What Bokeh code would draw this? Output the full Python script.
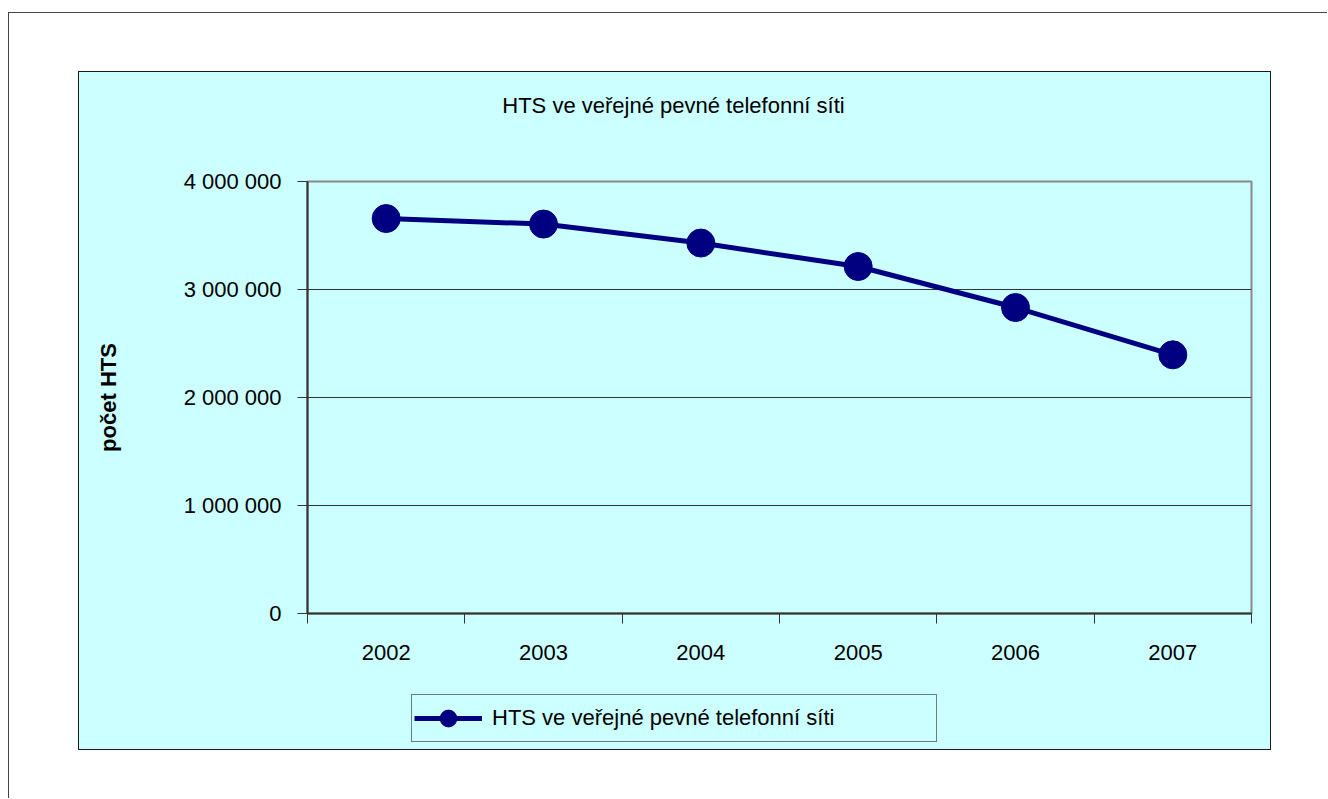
from bokeh.plotting import figure
from bokeh.layouts import column
from bokeh.models import Range1d, FixedTicker, Legend, LegendItem, Label
from bokeh.embed import file_html
from bokeh.resources import INLINE

# ---- data ----
years = ["2002", "2003", "2004", "2005", "2006", "2007"]
hts = [3657000, 3606000, 3430000, 3213000, 2833000, 2395000]
y_ticks = [0, 1000000, 2000000, 3000000, 4000000]
y_tick_labels = ["0", "1 000 000", "2 000 000", "3 000 000", "4 000 000"]
title_text = "HTS ve veřejné pevné telefonní síti"
series_name = "HTS ve veřejné pevné telefonní síti"
y_label = "počet HTS"

FONT = "Liberation Sans"
FS = "22px"
CYAN = "#CCFFFF"
NAVY = "#000080"
DARK = "#333333"
W = 1191
FRAME_W = 944   # the column aligns all frames to the main plot's frame

xs = [i + 0.5 for i in range(len(years))]
bounds = list(range(len(years) + 1))


def strip(h, xr, yr):
    f = figure(width=W, height=h, output_backend="svg", toolbar_location=None, tools="",
               x_range=xr, y_range=yr, x_axis_location=None, y_axis_location=None,
               min_border=0, min_border_left=0, min_border_right=0,
               min_border_top=0, min_border_bottom=0,
               background_fill_color=CYAN, border_fill_color=CYAN)
    f.outline_line_color = None
    f.grid.visible = False
    return f


# ---- title strip ----
t = strip(90, Range1d(0, FRAME_W), Range1d(0, 90))
t.add_layout(Label(x=366, y=57, text=title_text, text_align="center",
                   text_baseline="alphabetic", text_font=FONT, text_font_size=FS,
                   text_color="black"))

# ---- main plot ----
p = figure(width=W, height=528, output_backend="svg", toolbar_location=None, tools="",
           x_range=Range1d(0, len(years)), y_range=Range1d(y_ticks[0], y_ticks[-1]),
           min_border_left=228, min_border_right=19, min_border_top=19, min_border_bottom=77,
           background_fill_color=CYAN, border_fill_color=CYAN)
p.outline_line_color = "#888888"
p.outline_line_width = 2

xa = p.xaxis[0]
xa.ticker = FixedTicker(ticks=xs, minor_ticks=bounds)
xa.major_label_overrides = {x: y for x, y in zip(xs, years)}
xa.major_tick_out = 0
xa.major_tick_in = 0
xa.minor_tick_out = 10
xa.minor_tick_in = 0
xa.minor_tick_line_color = DARK
xa.minor_tick_line_width = 1
xa.axis_line_color = DARK
xa.axis_line_width = 2
xa.major_label_standoff = 21
xa.major_label_text_font = FONT
xa.major_label_text_font_size = FS
xa.major_label_text_color = "black"

ya = p.yaxis[0]
ya.ticker = FixedTicker(ticks=y_ticks)
ya.major_label_overrides = {v: s for v, s in zip(y_ticks, y_tick_labels)}
ya.major_tick_out = 10
ya.major_tick_in = 0
ya.minor_tick_out = 0
ya.minor_tick_in = 0
ya.major_tick_line_color = DARK
ya.axis_line_color = DARK
ya.axis_line_width = 2
ya.major_label_standoff = 16
ya.major_label_text_font = FONT
ya.major_label_text_font_size = FS
ya.major_label_text_color = "black"
ya.axis_label = y_label
ya.axis_label_text_font = FONT
ya.axis_label_text_font_size = FS
ya.axis_label_text_font_style = "bold"
ya.axis_label_text_color = "black"
ya.axis_label_standoff = 60

p.xgrid.visible = False
p.ygrid.ticker = FixedTicker(ticks=y_ticks[1:-1])
p.ygrid.grid_line_color = DARK
p.ygrid.grid_line_width = 1

p.line(xs, hts, line_color=NAVY, line_width=5)
p.scatter(xs, hts, size=28, fill_color=NAVY, line_color=NAVY)

# ---- legend strip ----
lg = strip(59, Range1d(-20, -10), Range1d(0, 1))
lr = lg.line(xs, hts, line_color=NAVY, line_width=5)
sr = lg.scatter(xs, hts, size=28, fill_color=NAVY, line_color=NAVY)
legend = Legend(items=[LegendItem(label=series_name, renderers=[lr, sr])],
                location=(104, 7), orientation="vertical",
                padding=2, margin=0, spacing=0,
                glyph_width=68, glyph_height=42, label_standoff=10, label_width=442,
                label_text_font=FONT, label_text_font_size=FS, label_text_color="black",
                border_line_color="black", border_line_width=1,
                background_fill_color=CYAN, background_fill_alpha=1.0)
lg.add_layout(legend)

chart = column(t, p, lg, spacing=0, margin=(60, 0, 0, 71),
               styles={"outline": "1.5px solid #1a1a1a", "background-color": CYAN})

root = column(chart, width=1319, height=786, margin=(12, 0, 0, 8),
              styles={"box-shadow": "inset 1px 1px 0 0 #444444"})

open("out.html", "w").write(file_html(root, INLINE))
